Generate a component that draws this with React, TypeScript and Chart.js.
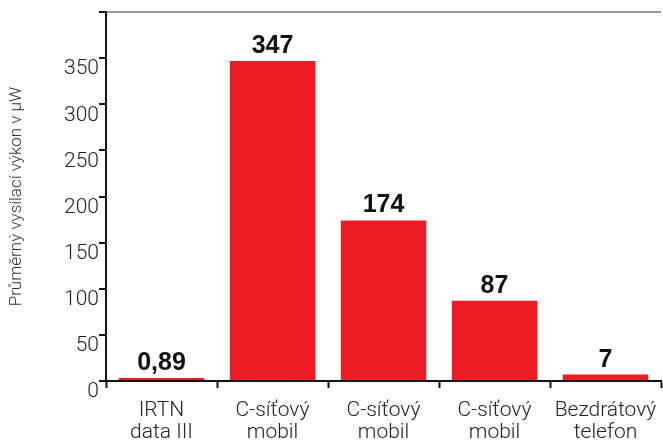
import React, { useEffect, useRef } from "react";
import { Chart, registerables } from "chart.js";

Chart.register(...registerables);

const categories: string[][] = [
  ["IRTN", "data III"],
  ["C-síťový", "mobil"],
  ["C-síťový", "mobil"],
  ["C-síťový", "mobil"],
  ["Bezdrátový", "telefon"],
];
const values: number[] = [0.89, 347, 174, 87, 7];
const valueLabels: string[] = ["0,89", "347", "174", "87", "7"];
const yTicks: number[] = [0, 50, 100, 150, 200, 250, 300, 350, 400];
const yTitle = "Průměrný vysílací výkon v µW";

const FONT = "'Liberation Sans', Arial, Helvetica, sans-serif";
const LIGHT = "Roboto, 'Liberation Sans', Arial, sans-serif";

const valueLabelPlugin = {
  id: "valueLabels",
  afterDatasetsDraw(chart: any) {
    const ctx = chart.ctx;
    const meta = chart.getDatasetMeta(0);
    ctx.save();
    ctx.font = `bold 25px ${FONT}`;
    ctx.fillStyle = "#111";
    ctx.textAlign = "center";
    ctx.textBaseline = "alphabetic";
    meta.data.forEach((bar: any, i: number) => {
      ctx.fillText(valueLabels[i], bar.x, bar.y - 8);
    });
    ctx.restore();
  },
};

export default function App() {
  const ref = useRef<HTMLCanvasElement | null>(null);
  useEffect(() => {
    document.body.style.margin = "0";
    if (!ref.current) return;
    const chart = new Chart(ref.current, {
      type: "bar",
      data: {
        labels: categories,
        datasets: [
          {
            data: values,
            backgroundColor: "#ED1C24",
            borderWidth: 0,
            barPercentage: 0.77,
            categoryPercentage: 1,
            minBarLength: 3,
          },
        ],
      },
      options: {
        animation: false,
        responsive: true,
        maintainAspectRatio: false,
        layout: { padding: { top: 12, right: 2, left: 0, bottom: 0 } },
        plugins: {
          legend: { display: false },
          tooltip: { enabled: false },
        },
        scales: {
          x: {
            offset: true,
            grid: {
              display: true,
              offset: true,
              drawOnChartArea: false,
              drawTicks: true,
              tickLength: 7,
              tickColor: "#111",
              tickWidth: 2,
            },
            border: { display: true, color: "#111", width: 2 },
            ticks: {
              color: "#222",
              font: { family: LIGHT, size: 21, weight: 300, lineHeight: 1.05 },
              padding: 12,
              maxRotation: 0,
              autoSkip: false,
            },
            afterFit: (scale: any) => {
              scale.height = 64;
              scale.paddingLeft = 0;
              scale.paddingRight = 0;
            },
          },
          y: {
            min: 0,
            max: 400,
            afterBuildTicks: (scale: any) => {
              scale.ticks = yTicks.map((v) => ({ value: v }));
            },
            grid: {
              display: true,
              drawOnChartArea: true,
              color: (c: any) =>
                c.tick && c.tick.value === 400 ? "#999" : "rgba(0,0,0,0)",
              lineWidth: 2,
              drawTicks: true,
              tickLength: 7,
              tickColor: "#111",
              tickWidth: 2,
            },
            border: { display: true, color: "#111", width: 2 },
            ticks: {
              color: "#222",
              font: { family: LIGHT, size: 21, weight: 300 },
              padding: 0,
              labelOffset: 11,
              autoSkip: false,
              callback: (v: any) => (v === 400 ? "" : String(v)),
            },
            title: {
              display: true,
              text: yTitle,
              color: "#333",
              font: { family: LIGHT, size: 17, weight: 300 },
              padding: { top: 7, bottom: 0 },
            },
            afterFit: (scale: any) => {
              scale.width = 106;
              scale.paddingTop = 0;
              scale.paddingBottom = 0;
            },
          },
        },
      },
      plugins: [valueLabelPlugin],
    });
    return () => chart.destroy();
  }, []);
  return (
    <div style={{ position: "relative", width: 663, height: 445 }}>
      <canvas ref={ref} />
    </div>
  );
}
